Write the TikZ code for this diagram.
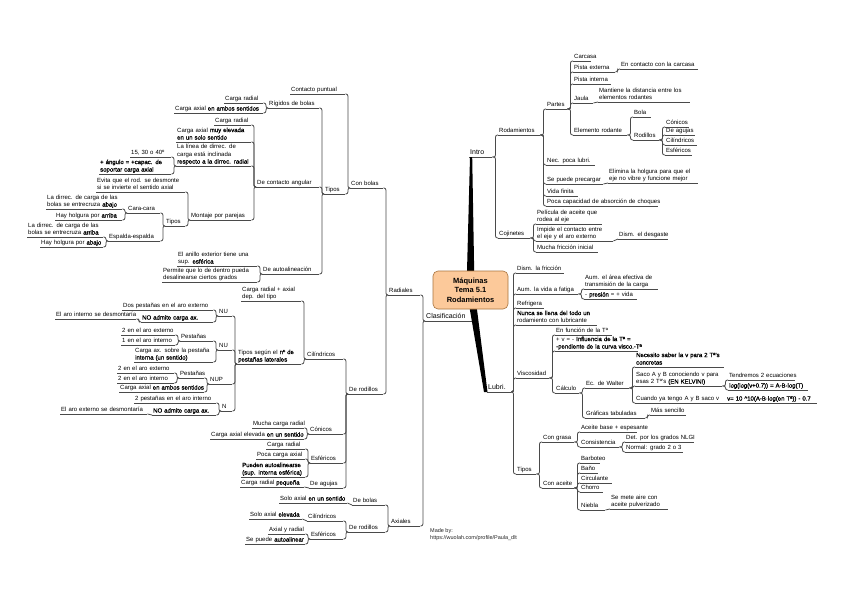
\documentclass[tikz,border=0pt]{standalone}
\usepackage{fontspec}
\setmainfont{Liberation Sans}
\newfontfamily\fakeb[FakeBold=1.1]{Liberation Sans}
\newcommand\emb[1]{{\fakeb #1}}
\usetikzlibrary{calc}
\definecolor{lncol}{HTML}{4A4A4A}
\definecolor{hubfill}{HTML}{FCC99A}
\definecolor{hubdraw}{HTML}{A8743F}
\tikzset{
  topic/.style={inner xsep=1pt, inner ysep=0pt, align=left, font=\fontsize{6}{7.5}\selectfont, text=black},
  maintopic/.style={topic, font=\fontsize{7}{8.5}\selectfont},
  uline/.style={draw=lncol, line width=0.8pt},
  conn/.style={draw=lncol, line width=0.8pt, rounded corners=2pt},
  trunk/.style={fill=black},
  hubnode/.style={draw=hubdraw, fill=hubfill, rounded corners=5pt, line width=0.6pt,
    minimum width=75pt, minimum height=38pt, align=center, inner sep=0pt,
    font=\fontsize{7.5}{9.5}\selectfont\bfseries},
  madeby/.style={anchor=north west, inner sep=0pt, align=left, text=black!85,
    font=\fontsize{5.5}{7}\selectfont}
}
% node: [style]{name}{x0}{x1}{y}{text}
\newcommand\mmT[6][topic]{%
  \pgfmathsetmacro\mmW{#4-#3-2}%
  \node[#1, text width=\mmW pt, anchor=south west] (#2) at (#3,#5)
    {\begin{tabular}{@{}l@{}}#6\end{tabular}};
  \draw[uline] (#2.south west) -- (#2.south east);}
% connectors
\newcommand\cR[2]{\draw[conn] (#1.south east) -| ([xshift=-2.5pt]#2.south west) -- (#2.south west);}
\newcommand\cL[2]{\draw[conn] (#1.south west) -| ([xshift=2.5pt]#2.south east) -- (#2.south east);}
\newcommand\cSR[2]{\draw[conn] (#1.south east) -- (#2.south west);}
\newcommand\cSL[2]{\draw[conn] (#1.south west) -- (#2.south east);}

\begin{document}
\begin{tikzpicture}[x=1pt,y=-1pt]
\fill[white] (0,0) rectangle (848,599);
\useasboundingbox (0,0) rectangle (848,599);

% ---------------- right: Intro ----------------
\mmT[maintopic]{intro}{469}{492}{157}{Intro}
\mmT{rodam}{498}{540}{135}{Rodamientos}
\mmT{partes}{546}{567}{109}{Partes}
\mmT{carcasa}{573}{591}{61}{Carcasa}
\mmT{pext}{573}{615}{72}{Pista externa}
\mmT{enc}{620}{698}{69}{En contacto con la carcasa}
\mmT{pint}{573}{611}{84}{Pista interna}
\mmT{jaula}{573}{593}{103}{Jaula}
\mmT{mantiene}{598}{690}{102}{Mantiene la distancia entre los\\elementos rodantes}
\mmT{elem}{573}{627}{135}{Elemento rodante}
\mmT{bola}{633}{651}{117}{Bola}
\mmT{rodil}{633}{659}{140}{Rodillos}
\mmT{con}{665}{689}{127}{Cónicos}
\mmT{agu}{665}{695}{135}{De agujas}
\mmT{cil}{665}{697}{145}{Cilíndricos}
\mmT{esf}{665}{692}{155}{Esféricos}
\mmT{nec}{546}{595}{165}{Nec. poca lubri.}
\mmT{prec}{546}{603}{184}{Se puede precargar}
\mmT{elim}{608}{698}{183}{Elimina la holgura para que el\\eje no vibre y funcione mejor}
\mmT{vida}{546}{578}{196}{Vida finita}
\mmT{poca}{546}{658}{206}{Poca capacidad de absorción de choques}
\mmT{cojin}{498}{530}{238}{Cojinetes}
\mmT{pelic}{536}{602}{224}{Película de aceite que\\rodea al eje}
\mmT{impide}{536}{613}{241}{Impide el contacto entre\\el eje y el aro externo}
\mmT{desg}{618}{668}{239}{Dism. el desgaste}
\mmT{mfric}{536}{598}{252}{Mucha fricción inicial}

\cR{intro}{rodam} \cR{intro}{cojin}
\cR{rodam}{partes} \cR{rodam}{nec} \cR{rodam}{prec} \cR{rodam}{vida} \cR{rodam}{poca}
\cR{partes}{carcasa} \cR{partes}{pext} \cR{partes}{pint} \cR{partes}{jaula} \cR{partes}{elem}
\cR{pext}{enc}
\cSR{jaula}{mantiene}
\cR{elem}{bola} \cR{elem}{rodil}
\cR{rodil}{con} \cR{rodil}{agu} \cR{rodil}{cil} \cR{rodil}{esf}
\cSR{prec}{elim}
\cR{cojin}{pelic} \cR{cojin}{impide} \cR{cojin}{mfric}
\cSR{impide}{desg}

% ---------------- right: Lubri. ----------------
\mmT[maintopic]{lubri}{487}{511}{392}{Lubri.}
\mmT{dism}{516}{564}{273}{Dism. la fricción}
\mmT{aumv}{516}{578}{294}{Aum. la vida a fatiga}
\mmT{area}{584}{658}{289}{Aum. el área efectiva de\\transmisión de la carga}
\mmT{pres}{584}{637}{299}{- \emb{presión} = + vida}
\mmT{refr}{516}{544}{308}{Refrigera}
\mmT{nunca}{516}{597}{325}{\emb{Nunca se llena del todo un}\\rodamiento con lubricante}
\mmT{visco}{516}{549}{378}{Viscosidad}
\mmT{enfun}{555}{612}{335}{En función de la Tª}
\mmT{influ}{555}{638}{351}{+ v = - \emb{Influencia de la Tª =}\\\emb{-pendiente de la curva visco.-Tª}}
\mmT{calc}{555}{579}{393}{Cálculo}
\mmT{walter}{585}{629}{388}{Ec. de Walter}
\mmT{neces}{635}{724}{367}{\emb{Necesito saber la v para 2 Tª's}\\\emb{concretas}}
\mmT{saco}{635}{722}{386}{Saco A y B conociendo v para\\esas 2 Tª's \emb{(EN KELVIN!)}}
\mmT{tendr}{728}{795}{380}{Tendremos 2 ecuaciones}
\mmT{loglog}{728}{808}{390}{\emb{log(log(v+0.7)) = A-B·log(T)}}
\mmT{cuando}{635}{721}{403}{Cuando ya tengo A y B saco v}
\mmT{vfin}{726}{817}{403}{\emb{v= 10 \textasciicircum 10(A-B·log(en Tª)) - 0.7}}
\mmT{graf}{585}{645}{418}{Gráficas tabuladas}
\mmT{senc}{650}{686}{415}{Más sencillo}
\mmT{tiposl}{516}{536}{474}{Tipos}
\mmT{grasa}{542}{574}{442}{Con grasa}
\mmT{abase}{580}{637}{432}{Aceite base + espesante}
\mmT{consis}{580}{619}{447}{Consistencia}
\mmT{nlgi}{625}{694}{442}{Det. por los grados NLGI}
\mmT{normal}{625}{683}{452}{Normal: grado 2 o 3}
\mmT{aceite}{542}{574}{488}{Con aceite}
\mmT{barb}{580}{600}{463}{Barboteo}
\mmT{bano}{580}{598}{473}{Baño}
\mmT{circ}{580}{612}{483}{Circulante}
\mmT{chorro}{580}{603}{492}{Chorro}
\mmT{niebla}{580}{605}{510}{Niebla}
\mmT{semete}{610}{668}{509}{Se mete aire con\\aceite pulverizado}

\cR{lubri}{dism} \cR{lubri}{aumv} \cR{lubri}{refr} \cR{lubri}{nunca} \cR{lubri}{visco} \cR{lubri}{tiposl}
\cR{aumv}{area} \cR{aumv}{pres}
\cR{visco}{enfun} \cR{visco}{influ} \cR{visco}{calc}
\cR{calc}{walter} \cR{calc}{graf}
\cR{walter}{neces} \cR{walter}{saco} \cR{walter}{cuando}
\cR{saco}{tendr} \cR{saco}{loglog}
\cSR{cuando}{vfin}
\cR{graf}{senc}
\cR{tiposl}{grasa} \cR{tiposl}{aceite}
\cR{grasa}{abase} \cR{grasa}{consis}
\cR{consis}{nlgi} \cR{consis}{normal}
\cR{aceite}{barb} \cR{aceite}{bano} \cR{aceite}{circ} \cR{aceite}{chorro} \cR{aceite}{niebla}
\cSR{niebla}{semete}

% ---------------- left: Clasificación ----------------
\mmT[maintopic]{clasif}{425}{472}{321}{Clasificación}
\mmT{radial}{388}{420}{295}{Radiales}
\mmT{conbol}{350}{383}{188}{Con bolas}
\mmT{puntual}{290}{345}{94}{Contacto puntual}
\mmT{tiposb}{324}{345}{194}{Tipos}
\mmT{rigid}{268}{319}{108}{Rígidos de bolas}
\mmT{cr1}{224}{263}{103}{Carga radial}
\mmT{ca1}{174}{263}{113}{Carga axial \emb{en ambos sentidos}}
\mmT{angul}{256}{319}{187}{De contacto angular}
\mmT{cr2}{214}{251}{125}{Carga radial}
\mmT{ca2}{176}{251}{142}{Carga axial \emb{muy elevada}\\\emb{en un solo sentido}}
\mmT{linea}{176}{251}{166}{La línea de dirrec. de\\carga está inclinada\\\emb{respecto a la dirrec. radial}}
\mmT{ang15}{130}{171}{157}{15, 30 o 40º}
\mmT{angmas}{99}{171}{174}{\emb{+ ángulo = +capac. de}\\\emb{soportar carga axial}}
\mmT{montaje}{190}{251}{220}{Montaje por parejas}
\mmT{evita}{96}{185}{192}{Evita que el rod. se desmonte\\si se invierte el sentido axial}
\mmT{tiposm}{165}{185}{226}{Tipos}
\mmT{cara}{127}{160}{213}{Cara-cara}
\mmT{cdir}{46}{122}{209}{La dirrec. de carga de las\\bolas se entrecruza \emb{abajo}}
\mmT{chol}{55}{122}{220}{Hay holgura por \emb{arriba}}
\mmT{espal}{108}{160}{241}{Espalda-espalda}
\mmT{edir}{27}{103}{237}{La dirrec. de carga de las\\bolas se entrecruza \emb{arriba}}
\mmT{ehol}{40}{103}{247}{Hay holgura por \emb{abajo}}
\mmT{autoal}{262}{319}{274}{De autoalineación}
\mmT{anillo}{177}{257}{266}{El anillo exterior tiene una\\sup. \emb{esférica}}
\mmT{permite}{162}{257}{282}{Permite que lo de dentro pueda\\desalinearse ciertos grados}
\mmT{derodr}{348}{383}{394}{De rodillos}
\mmT{cilr}{306}{343}{359}{Cilíndricos}
\mmT{cra}{241}{301}{301}{Carga radial + axial\\dep. del tipo}
\mmT{tiposp}{237}{301}{364}{Tipos según el \emb{nº de}\\\emb{pestañas laterales}}
\mmT{nu1}{218}{232}{316}{NU}
\mmT{dosext}{122}{213}{310}{Dos pestañas en el aro externo}
\mmT{noad1}{141}{213}{322}{\emb{NO admite carga ax.}}
\mmT{aroint}{55}{136}{319}{El aro interno se desmontaría}
\mmT{nu2}{218}{232}{350}{NU}
\mmT{pest1}{180}{213}{341}{Pestañas}
\mmT{ext1}{121}{175}{335}{2 en el aro externo}
\mmT{int1}{121}{175}{345}{1 en el aro interno}
\mmT{cargaax}{134}{213}{362}{Carga ax. sobre la pestaña\\\emb{interna (un sentido)}}
\mmT{nup}{209}{232}{384}{NUP}
\mmT{pest2}{179}{204}{378}{Pestañas}
\mmT{ext2}{117}{174}{373}{2 en el aro externo}
\mmT{int2}{117}{174}{383}{2 en el aro interno}
\mmT{ambos}{119}{204}{392}{Carga axial \emb{en ambos sentidos}}
\mmT{nn}{221}{232}{411}{N}
\mmT{dosint}{134}{216}{403}{2 pestañas en el aro interno}
\mmT{noad2}{152}{216}{415}{\emb{NO admite carga ax.}}
\mmT{aroext}{60}{147}{414}{El aro externo se desmontaría}
\mmT{conr}{309}{343}{434}{Cónicos}
\mmT{mucha}{252}{304}{428}{Mucha carga radial}
\mmT{elev}{210}{304}{439}{Carga axial elevada \emb{en un sentido}}
\mmT{esfr}{310}{343}{463}{Esféricos}
\mmT{cr3}{266}{305}{449}{Carga radial}
\mmT{pocar}{256}{305}{459}{Poca carga axial}
\mmT{pueden}{241}{305}{477}{\emb{Pueden autoalinearse}\\\emb{(sup. interna esférica)}}
\mmT{agur}{309}{343}{488}{De agujas}
\mmT{peq}{240}{304}{487}{Carga radial \emb{pequeña}}
\mmT{axial}{390}{420}{526}{Axiales}
\mmT{debol}{352}{385}{505}{De bolas}
\mmT{solo1}{279}{347}{503}{Solo axial \emb{en un sentido}}
\mmT{derodx}{348}{385}{532}{De rodillos}
\mmT{cilx}{307}{343}{521}{Cilíndricos}
\mmT{soloel}{249}{302}{519}{Solo axial \emb{elevada}}
\mmT{esfx}{310}{343}{539}{Esféricos}
\mmT{axrad}{268}{305}{534}{Axial y radial}
\mmT{autox}{245}{305}{544}{Se puede \emb{autoalinear}}

\cL{clasif}{radial} \cL{clasif}{axial}
\cL{radial}{conbol} \cL{radial}{derodr}
\cL{conbol}{puntual} \cL{conbol}{tiposb}
\cL{tiposb}{rigid} \cL{tiposb}{angul} \cL{tiposb}{autoal}
\cL{rigid}{cr1} \cL{rigid}{ca1}
\cL{angul}{cr2} \cL{angul}{ca2} \cL{angul}{linea} \cL{angul}{montaje}
\cL{linea}{ang15} \cL{linea}{angmas}
\cL{montaje}{evita} \cL{montaje}{tiposm}
\cL{tiposm}{cara} \cL{tiposm}{espal}
\cL{cara}{cdir} \cL{cara}{chol}
\cL{espal}{edir} \cL{espal}{ehol}
\cL{autoal}{anillo} \cL{autoal}{permite}
\cL{derodr}{cilr} \cL{derodr}{conr} \cL{derodr}{esfr} \cL{derodr}{agur}
\cL{cilr}{cra} \cL{cilr}{tiposp}
\cL{tiposp}{nu1} \cL{tiposp}{nu2} \cL{tiposp}{nup} \cL{tiposp}{nn}
\cL{nu1}{dosext} \cL{nu1}{noad1}
\cL{noad1}{aroint}
\cL{nu2}{pest1} \cL{nu2}{cargaax}
\cL{pest1}{ext1} \cL{pest1}{int1}
\cL{nup}{pest2} \cL{nup}{ambos}
\cL{pest2}{ext2} \cL{pest2}{int2}
\cL{nn}{dosint} \cL{nn}{noad2}
\cSL{noad2}{aroext}
\cL{conr}{mucha} \cL{conr}{elev}
\cL{esfr}{cr3} \cL{esfr}{pocar} \cL{esfr}{pueden}
\cSL{agur}{peq}
\cL{axial}{debol} \cL{axial}{derodx}
\cSL{debol}{solo1}
\cL{derodx}{cilx} \cL{derodx}{esfx}
\cSL{cilx}{soloel}
\cL{esfx}{axrad} \cL{esfx}{autox}

% ---------------- trunk and central topic ----------------
\coordinate (hub) at (470.5,290);
\fill[trunk] ([xshift=1pt]intro.south west) -- ([xshift=3.2pt]intro.south west)
  -- ([xshift=4pt]hub) -- ([xshift=-4pt]hub) -- cycle;
\fill[trunk] ([xshift=-4pt]hub) -- ([xshift=4pt]hub)
  -- ([xshift=0.5pt]lubri.south west) -- ([xshift=-3pt]lubri.south west) -- cycle;
\node[hubnode] (center) at (hub) {Máquinas\\Tema 5.1\\Rodamientos};

\node[madeby] (made) at (430,528) {Made by:\\https://wuolah.com/profile/Paula\_dlt};
\end{tikzpicture}
\end{document}
